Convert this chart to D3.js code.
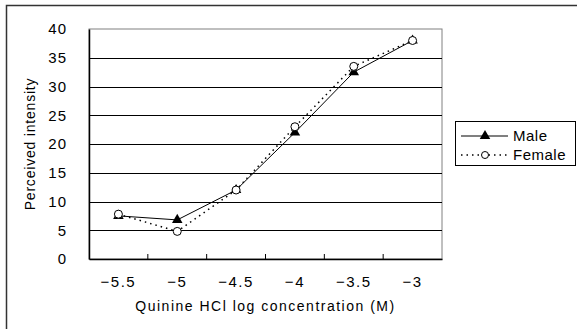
<!DOCTYPE html>
<html>
<head>
<meta charset="utf-8">
<script src="https://cdn.jsdelivr.net/npm/d3@7"></script>
<style>
  body { margin: 0; background: #fff; }
  svg text { font-family: "Liberation Sans", Arial, sans-serif; fill: #000; }
</style>
</head>
<body>
<svg id="chart" width="577" height="329"></svg>
<script>
const categories = ["-5.5", "-5", "-4.5", "-4", "-3.5", "-3"];
const maleValues = [7.5, 6.8, 12, 22, 32.5, 38];
const femaleValues = [7.8, 4.8, 12, 23, 33.5, 38];
const yTicks = [0, 5, 10, 15, 20, 25, 30, 35, 40];
const seriesNames = ["Male", "Female"];

const svg = d3.select("#chart");
const margin = { left: 89, top: 29, right: 442, bottom: 259 };

// outer frame (only top and left visible in the window)
svg.append("rect")
  .attr("x", 6.5).attr("y", 5.5)
  .attr("width", 600).attr("height", 400)
  .attr("fill", "none").attr("stroke", "#333").attr("stroke-width", 1.5);

const x = d3.scaleBand()
  .domain(categories)
  .range([margin.left, margin.right]);

const y = d3.scaleLinear()
  .domain([0, 40])
  .range([margin.bottom, margin.top]);

// plot border
svg.append("rect")
  .attr("x", margin.left).attr("y", margin.top)
  .attr("width", margin.right - margin.left)
  .attr("height", margin.bottom - margin.top)
  .attr("fill", "#fff").attr("stroke", "#808080").attr("stroke-width", 1);

// gridlines
svg.append("g")
  .selectAll("line")
  .data(yTicks.filter(d => d > 0 && d < 40))
  .enter().append("line")
  .attr("x1", margin.left).attr("x2", margin.right)
  .attr("y1", d => Math.round(y(d)) + 0.5)
  .attr("y2", d => Math.round(y(d)) + 0.5)
  .attr("stroke", "#000").attr("stroke-width", 1);

// y axis
const yAxis = svg.append("g")
  .attr("transform", `translate(${margin.left},0)`)
  .call(d3.axisLeft(y).tickValues(yTicks).tickSize(0).tickPadding(22).tickFormat(d3.format("d")));
yAxis.select(".domain").attr("stroke", "#000").attr("stroke-width", 1.5);
yAxis.selectAll("text").style("font-size", "15px").style("fill", "#000").attr("letter-spacing", "1px");

// x axis with ticks between categories
const xAxis = svg.append("g")
  .attr("transform", `translate(0,${margin.bottom})`)
  .call(d3.axisBottom(x).tickSize(0).tickPadding(17).tickFormat(d => d.replace("-", "\u2212")));
xAxis.select(".domain").attr("stroke", "#000").attr("stroke-width", 1.5);
xAxis.selectAll("text").style("font-size", "15px").style("fill", "#000").attr("letter-spacing", "1.5px");

xAxis.selectAll("line.sep")
  .data(categories.slice(1))
  .enter().append("line")
  .attr("class", "sep")
  .attr("x1", d => x(d)).attr("x2", d => x(d))
  .attr("y1", 0).attr("y2", -5)
  .attr("stroke", "#000");

// axis titles
svg.append("text")
  .attr("transform", `translate(35,${(margin.top + margin.bottom) / 2}) rotate(-90)`)
  .attr("text-anchor", "middle")
  .attr("letter-spacing", "0.8px")
  .style("font-size", "14px")
  .text("Perceived intensity");

svg.append("text")
  .attr("x", (margin.left + margin.right) / 2)
  .attr("y", 311)
  .attr("text-anchor", "middle")
  .attr("letter-spacing", "1.5px")
  .style("font-size", "14px")
  .text("Quinine HCl log concentration (M)");

const cx = d => x(d) + x.bandwidth() / 2;
const line = d3.line().x(d => cx(d.cat)).y(d => y(d.v));

const male = categories.map((c, i) => ({ cat: c, v: maleValues[i] }));
const female = categories.map((c, i) => ({ cat: c, v: femaleValues[i] }));

const tri = d3.symbol().type(d3.symbolTriangle).size(48);

// male series
svg.append("path")
  .datum(male)
  .attr("d", line)
  .attr("fill", "none").attr("stroke", "#000").attr("stroke-width", 1);

// female series
svg.append("path")
  .datum(female)
  .attr("d", line)
  .attr("fill", "none").attr("stroke", "#000").attr("stroke-width", 1.5)
  .attr("stroke-dasharray", "1.5,4");

svg.append("g").selectAll("path")
  .data(male)
  .enter().append("path")
  .attr("d", tri)
  .attr("transform", d => `translate(${cx(d.cat)},${y(d.v)})`)
  .attr("fill", "#000");

svg.append("g").selectAll("circle")
  .data(female)
  .enter().append("circle")
  .attr("cx", d => cx(d.cat)).attr("cy", d => y(d.v))
  .attr("r", 4)
  .attr("fill", "#fff").attr("stroke", "#000").attr("stroke-width", 1);

// legend
const legend = svg.append("g");
legend.append("rect")
  .attr("x", 455.5).attr("y", 121.5)
  .attr("width", 120).attr("height", 44)
  .attr("fill", "#fff").attr("stroke", "#000");

seriesNames.forEach((name, i) => {
  const ly = 136 + i * 19;
  legend.append("line")
    .attr("x1", 461).attr("x2", 508)
    .attr("y1", ly).attr("y2", ly)
    .attr("stroke", "#000")
    .attr("stroke-width", i === 0 ? 1 : 1.5)
    .attr("stroke-dasharray", i === 0 ? null : "1.5,4");
  if (i === 0) {
    legend.append("path")
      .attr("d", tri)
      .attr("transform", `translate(485,${ly})`)
      .attr("fill", "#000");
  } else {
    legend.append("circle")
      .attr("cx", 485).attr("cy", ly).attr("r", 3.5)
      .attr("fill", "#fff").attr("stroke", "#000");
  }
  legend.append("text")
    .attr("x", 513).attr("y", ly + 5)
    .attr("letter-spacing", "0.5px")
    .style("font-size", "15px")
    .text(name);
});
</script>
</body>
</html>
